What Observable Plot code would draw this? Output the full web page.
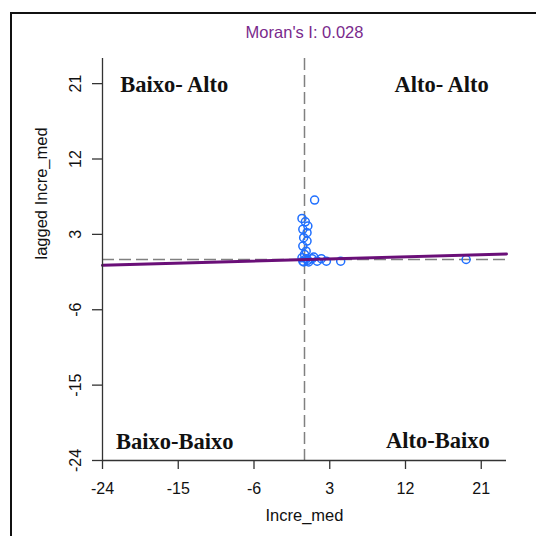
<!DOCTYPE html>
<html>
<head>
<meta charset="utf-8">
<script src="https://cdn.jsdelivr.net/npm/d3@7"></script>
<script src="https://cdn.jsdelivr.net/npm/@observablehq/plot@0.6"></script>
<style>
  html, body { margin: 0; padding: 0; background: #fff; overflow: hidden; }
  #wrap { position: relative; width: 536px; height: 536px; }
  #frame { position: absolute; left: 10px; top: 12px; width: 600px; height: 600px; border: 2px solid #111; box-sizing: border-box; pointer-events: none; }
  #chart { position: absolute; left: 0; top: 0; }
</style>
</head>
<body>
<div id="wrap"><div id="chart"></div><div id="frame"></div></div>
<script>
// Data
const increMed =       [-0.3, 0.1, 0.4, -0.2, 0.3, -0.1, 0.3, -0.2, 0.2, 0.0, -0.3, 0.2, -0.2, 0.4, 0.9, 1.5, 1.1, 2.0, 2.6, 4.3, 19.2, 1.2, -0.1, 0.5];
const laggedIncreMed = [4.9, 4.5, 4.0, 3.6, 3.2, 2.6, 2.2, 1.6, 1.0, 0.6, 0.2, 0.1, -0.2, -0.1, 0.1, -0.2, 0.3, 0.1, -0.2, -0.2, 0.0, 7.1, -0.3, -0.3];
const regX = [-24, 24];
const regY = [-0.7, 0.65];
const meanX = 0;
const meanY = 0;
const xTicks = [-24, -15, -6, 3, 12, 21];
const yTicks = [-24, -15, -6, 3, 12, 21];
const leftLabels = ["Baixo- Alto", "Baixo-Baixo"];
const leftX = [-21.9, -22.4];
const leftY = [20.9, -21.8];
const rightLabels = ["Alto- Alto", "Alto-Baixo"];
const rightX = [21.9, 22.0];
const rightY = [20.9, -21.7];
const titleText = "Moran's I: 0.028";
const xLabel = "Incre_med";
const yLabel = "lagged Incre_med";

const points = increMed.map((x, i) => ({x, y: laggedIncreMed[i]}));
const reg = regX.map((x, i) => ({x, y: regY[i]}));
const leftQ = leftLabels.map((t, i) => ({t, x: leftX[i], y: leftY[i]}));
const rightQ = rightLabels.map((t, i) => ({t, x: rightX[i], y: rightY[i]}));

const sans = "Arial, 'Liberation Sans', sans-serif";
const serif = "'Times New Roman', 'Liberation Serif', serif";
const qStyle = {x: "x", y: "y", text: "t", fontSize: 22.5, fontWeight: "bold", fontFamily: serif, fill: "#111"};
const fmt = d => String(d);

const plot = Plot.plot({
  width: 536,
  height: 536,
  marginLeft: 102,
  marginRight: 30,
  marginTop: 58,
  marginBottom: 76,
  style: {fontFamily: sans, background: "transparent"},
  x: {domain: [-24, 24]},
  y: {domain: [-24, 24]},
  marks: [
    // dashed mean lines
    Plot.ruleX([meanX], {stroke: "#808080", strokeWidth: 1.5, strokeDasharray: "12,5"}),
    Plot.ruleY([meanY], {stroke: "#808080", strokeWidth: 1.5, strokeDasharray: "12,5"}),
    // points
    Plot.dot(points, {x: "x", y: "y", r: 4, stroke: "#1f6fff", strokeWidth: 1.5, fill: "none"}),
    // regression line
    Plot.line(reg, {x: "x", y: "y", stroke: "#6a0f78", strokeWidth: 3}),
    // axis lines
    Plot.ruleX([-24], {y1: -24, y2: 24, stroke: "#333", strokeWidth: 1.3}),
    Plot.ruleY([-24], {x1: -24, x2: 24, stroke: "#333", strokeWidth: 1.3}),
    Plot.axisX({ticks: xTicks, tickFormat: fmt, tickSize: 9, tickPadding: 13, fontSize: 16, stroke: "#333", strokeWidth: 1.3, color: "#111", label: null}),
    Plot.axisY({ticks: yTicks, tickFormat: fmt, tickSize: 10, tickPadding: 12, tickRotate: -90, fontSize: 16, stroke: "#333", strokeWidth: 1.3, color: "#111", label: null}),
    // axis titles
    Plot.text([xLabel], {frameAnchor: "bottom", dy: 60, fontSize: 16.5, fill: "#111"}),
    Plot.text([yLabel], {frameAnchor: "left", dx: -61, rotate: -90, fontSize: 16.5, fill: "#111"}),
    // title
    Plot.text([titleText], {frameAnchor: "top", dy: -32, fontSize: 16.5, fill: "#7a2a8c"}),
    // quadrant labels
    Plot.text(leftQ, {...qStyle, textAnchor: "start"}),
    Plot.text(rightQ, {...qStyle, textAnchor: "end"})
  ]
});
document.getElementById("chart").appendChild(plot);
</script>
</body>
</html>
